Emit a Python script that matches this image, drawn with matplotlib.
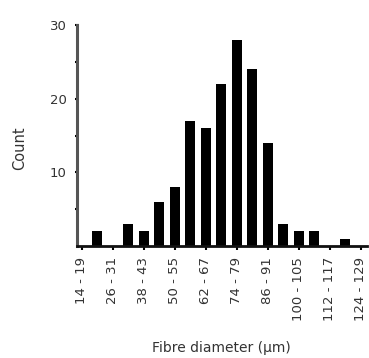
import matplotlib
matplotlib.use("Agg")
import matplotlib.pyplot as plt
import numpy as np

bins = ["14 - 19", "20 - 25", "26 - 31", "32 - 37", "38 - 43", "44 - 49", "50 - 55",
        "56 - 61", "62 - 67", "68 - 73", "74 - 79", "80 - 85", "86 - 91", "92 - 97",
        "100 - 105", "106 - 111", "112 - 117", "118 - 123", "124 - 129"]
counts = [0, 2, 0, 3, 2, 6, 8, 17, 16, 22, 28, 24, 14, 3, 2, 2, 0, 1, 0]
labelled = [0, 2, 4, 6, 8, 10, 12, 14, 16, 18]

plt.rcParams['font.family'] = ['DejaVu Sans']

fig = plt.figure(figsize=(3.69, 3.58), dpi=100)
ax = fig.add_axes([0.2087, 0.313, 0.786, 0.617])
x = np.arange(len(bins))
ax.bar(x, counts, width=0.65, color='black')
ax.set_xlim(-0.32, 18.4)
ax.set_ylim(0, 30)
ax.set_yticks([10, 20, 30])
ax.set_yticks([5, 15, 25], minor=True)
ax.set_xticks(x[labelled])
ax.set_xticklabels([bins[i] for i in labelled], rotation=90, fontsize=9.5, color='#333333')
ax.tick_params(axis='y', labelsize=9.5, labelcolor='#333333', length=3, width=1.5,
               direction='inout', pad=6)
ax.tick_params(axis='y', which='minor', length=3, width=1.5, direction='inout')
ax.tick_params(axis='x', length=3, width=1.5, pad=5)
for s in ['top', 'right']:
    ax.spines[s].set_visible(False)
ax.spines['left'].set_linewidth(2.2)
ax.spines['left'].set_color('#555555')
ax.spines['bottom'].set_linewidth(2)
ax.spines['bottom'].set_color('#111111')
fig.text(0.052, 0.587, 'Count', rotation=90, ha='center', va='center', fontsize=10.5, color='#333333')
fig.text(0.599, 0.028, 'Fibre diameter (\u00b5m)', ha='center', va='center', fontsize=10, color='#333333')
fig.savefig('out.png', dpi=100)
